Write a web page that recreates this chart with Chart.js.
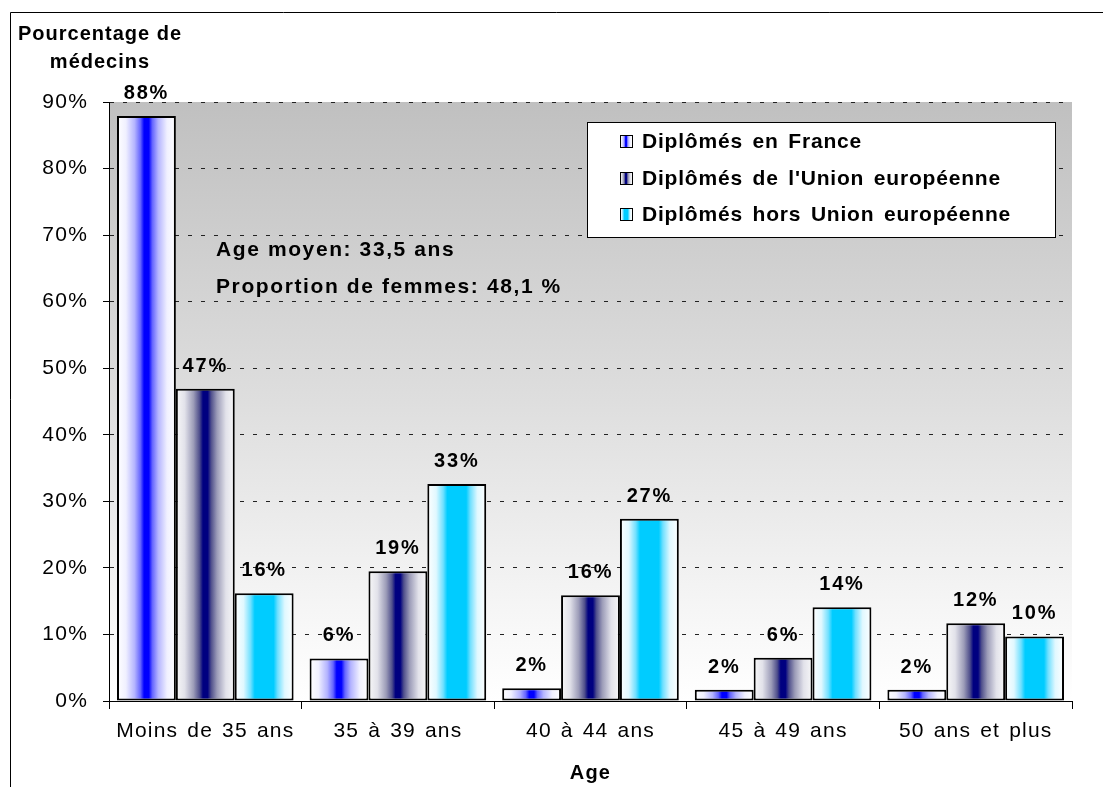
<!DOCTYPE html>
<html>
<head>
<meta charset="utf-8">
<script src="https://cdn.jsdelivr.net/npm/chart.js@4"></script>
<style>
  body { margin: 0; background: #fff; }
  canvas { display: block; }
</style>
</head>
<body>
<canvas id="myChart" width="1103" height="787"></canvas>
<script>
// data
const ages = ['Moins de 35 ans', '35 à 39 ans', '40 à 44 ans', '45 à 49 ans', '50 ans et plus'];
const seriesNames = ['Diplômés en France', "Diplômés de l'Union européenne", 'Diplômés hors Union européenne'];
const france = [87.9, 6.4, 1.9, 1.7, 1.7];
const unionEur = [46.9, 19.5, 15.9, 6.5, 11.7];
const horsUE = [16.2, 32.6, 27.4, 14.1, 9.7];
const franceLabels = ['88%', '6%', '2%', '2%', '2%'];
const unionEurLabels = ['47%', '19%', '16%', '6%', '12%'];
const horsUELabels = ['16%', '33%', '27%', '14%', '10%'];
const yMax = 90;
const yStep = 10;
const notes = ['Age moyen: 33,5 ans', 'Proportion de femmes: 48,1 %'];
const yTitle = ['Pourcentage de', 'médecins'];
const xTitle = 'Age';

const valueLabels = [franceLabels, unionEurLabels, horsUELabels];

// horizontal gradient stops for each series (white edges, colour centre)
const gradStops = [
  [[0, '#ffffff'], [0.15, '#f0f0ff'], [0.3, '#b4b4ff'], [0.4, '#6464ff'], [0.46, '#0000ff'],
   [0.54, '#0000ff'], [0.6, '#6464ff'], [0.7, '#b4b4ff'], [0.85, '#f0f0ff'], [1, '#ffffff']],
  [[0, '#f8f8f8'], [0.15, '#e2e2ea'], [0.3, '#9c9cb8'], [0.4, '#50508c'], [0.46, '#000080'],
   [0.54, '#000080'], [0.6, '#50508c'], [0.7, '#9c9cb8'], [0.85, '#e2e2ea'], [1, '#f8f8f8']],
  [[0, '#ffffff'], [0.15, '#e0f8ff'], [0.27, '#70e0ff'], [0.34, '#00ccff'],
   [0.66, '#00ccff'], [0.73, '#70e0ff'], [0.85, '#e0f8ff'], [1, '#ffffff']]
];
const centreColours = ['#0000ff', '#000080', '#00ccff'];

function makeGrad(ctx, x0, x1, i) {
  const g = ctx.createLinearGradient(x0, 0, x1, 0);
  gradStops[i].forEach(s => g.addColorStop(s[0], s[1]));
  return g;
}

const FAMILY = "'Liberation Sans', Arial, sans-serif";
Chart.defaults.font.family = FAMILY;
Chart.defaults.font.size = 21;
Chart.defaults.color = '#000';

const SPACING = '1.2px';
const WORDS = '2px';

const spacing = {
  id: 'spacing',
  beforeUpdate(chart) { chart.ctx.letterSpacing = SPACING; chart.ctx.wordSpacing = WORDS; },
  beforeDraw(chart) { chart.ctx.letterSpacing = SPACING; chart.ctx.wordSpacing = WORDS; }
};

const plotBg = {
  id: 'plotBg',
  beforeDraw(chart) {
    const { ctx, chartArea: a } = chart;
    ctx.save();
    ctx.fillStyle = '#fff';
    ctx.fillRect(0, 0, chart.width, chart.height);
    const g = ctx.createLinearGradient(0, a.top, 0, a.bottom);
    g.addColorStop(0, '#c0c0c0');
    g.addColorStop(0.5, '#dedede');
    g.addColorStop(0.85, '#f6f6f6');
    g.addColorStop(1, '#ffffff');
    ctx.fillStyle = g;
    ctx.fillRect(a.left, a.top, a.right - a.left, a.bottom - a.top);
    // outer frame
    ctx.strokeStyle = '#000';
    ctx.lineWidth = 1;
    ctx.beginPath();
    ctx.moveTo(10.5, chart.height);
    ctx.lineTo(10.5, 12.5);
    ctx.lineTo(chart.width, 12.5);
    ctx.stroke();
    ctx.restore();
  }
};

const barFill = {
  id: 'barFill',
  beforeDatasetsDraw(chart) {
    const ctx = chart.ctx;
    chart.data.datasets.forEach((ds, i) => {
      chart.getDatasetMeta(i).data.forEach(el => {
        const g = makeGrad(ctx, el.x - el.width / 2, el.x + el.width / 2, i);
        el.options = Object.assign({}, el.options, { backgroundColor: g });
      });
    });
  }
};

const extras = {
  id: 'extras',
  afterDraw(chart) {
    const ctx = chart.ctx;
    ctx.save();
    ctx.letterSpacing = '1.8px';
    ctx.wordSpacing = '0px';
    ctx.fillStyle = '#000';
    ctx.font = 'bold 20px ' + FAMILY;

    // value labels above bars
    ctx.textAlign = 'center';
    ctx.textBaseline = 'alphabetic';
    chart.data.datasets.forEach((ds, i) => {
      chart.getDatasetMeta(i).data.forEach((el, j) => {
        ctx.fillText(valueLabels[i][j], el.x, el.y - 17);
      });
    });

    // y axis title, top left
    ctx.letterSpacing = '1px';
    ctx.fillText(yTitle[0], 100, 40);
    ctx.fillText(yTitle[1], 100, 68);

    // notes
    ctx.font = 'bold 21px ' + FAMILY;
    ctx.textAlign = 'left';
    ctx.letterSpacing = '1.6px';
    ctx.fillText(notes[0], 216, 256);
    ctx.fillText(notes[1], 216, 293);

    // legend
    ctx.letterSpacing = '0.8px';
    ctx.wordSpacing = '3px';
    const bx = 587.5, by = 122.5, bw = 468, bh = 115;
    ctx.fillStyle = '#fff';
    ctx.fillRect(bx, by, bw, bh);
    ctx.strokeStyle = '#000';
    ctx.lineWidth = 1;
    ctx.strokeRect(bx, by, bw, bh);
    const baselines = [148, 185, 221];
    seriesNames.forEach((name, i) => {
      const sx = 620, sy = baselines[i] - 13;
      ctx.fillStyle = makeGrad(ctx, sx, sx + 12, i);
      ctx.fillRect(sx, sy, 12, 12);
      ctx.strokeRect(sx + 0.5, sy + 0.5, 12, 12);
      ctx.fillStyle = '#000';
      ctx.fillText(name, 642, baselines[i]);
    });
    ctx.restore();
  }
};

const datasets = [france, unionEur, horsUE].map((vals, i) => ({
  label: seriesNames[i],
  data: vals,
  backgroundColor: centreColours[i],
  borderColor: '#000',
  borderWidth: 2,
  borderSkipped: false
}));

const config = {
  type: 'bar',
  data: { labels: ages, datasets: datasets },
  options: {
    responsive: false,
    animation: false,
    events: [],
    categoryPercentage: 0.917,
    barPercentage: 1,
    layout: { padding: { left: 0, top: 102, right: 31, bottom: 0 } },
    plugins: {
      legend: { display: false },
      tooltip: { enabled: false }
    },
    scales: {
      x: {
        grid: {
          offset: true,
          drawOnChartArea: false,
          drawTicks: true,
          tickLength: 8,
          tickColor: '#000',
          tickWidth: 1
        },
        border: { display: true, color: '#000', width: 1 },
        ticks: { padding: 10, color: '#000', maxRotation: 0, autoSkip: false },
        title: {
          display: true,
          text: xTitle,
          font: { weight: 'bold', size: 20 },
          color: '#000',
          padding: { top: 2, bottom: 2 }
        },
        afterFit(scale) { scale.height = 86; }
      },
      y: {
        min: 0,
        max: yMax,
        ticks: {
          stepSize: yStep,
          padding: 15,
          color: '#000',
          callback: v => v + '%'
        },
        grid: {
          color: '#222',
          lineWidth: 1,
          tickLength: 6,
          tickColor: '#000'
        },
        border: { display: true, color: '#000', width: 1, dash: [4, 9] },
        afterFit(scale) { scale.width = 109; }
      }
    }
  },
  plugins: [spacing, plotBg, barFill, extras]
};

const myChart = new Chart(document.getElementById('myChart'), config);
</script>
</body>
</html>
